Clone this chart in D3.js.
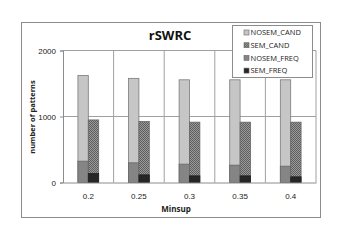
<!DOCTYPE html>
<html>
<head>
<meta charset="utf-8">
<script src="https://cdn.jsdelivr.net/npm/d3@7.9.0/dist/d3.min.js"></script>
<style>
  body { margin: 0; background: #fff; }
  svg { font-family: 'Open Sans', 'DejaVu Sans', sans-serif; }
</style>
</head>
<body>
<div id="chart"></div>
<script>
const categories = ['0.2', '0.25', '0.3', '0.35', '0.4'];
const nosemCand = [1620, 1578, 1556, 1556, 1556];
const semCand = [948, 924, 914, 914, 914];
const nosemFreq = [323, 298, 278, 263, 247];
const semFreq = [136, 116, 101, 101, 86];
const yTicks = [0, 1000, 2000];
const legendNames = ['NOSEM_CAND', 'SEM_CAND', 'NOSEM_FREQ', 'SEM_FREQ'];

const width = 345;
const height = 244;
const margin = { top: 50.5, right: 29, bottom: 61.5, left: 63 };

const svg = d3.select('#chart')
  .append('svg')
  .attr('width', width)
  .attr('height', height);

const defs = svg.append('defs');
const hatch = defs.append('pattern')
  .attr('id', 'hatch')
  .attr('patternUnits', 'userSpaceOnUse')
  .attr('width', 2)
  .attr('height', 2);
hatch.append('rect').attr('width', 2).attr('height', 2).attr('fill', '#9a9a9a');
hatch.append('rect').attr('width', 1).attr('height', 1).attr('fill', '#5e5e5e');
hatch.append('rect').attr('x', 1).attr('y', 1).attr('width', 1).attr('height', 1).attr('fill', '#5e5e5e');

// outer frame
svg.append('rect')
  .attr('x', 21.5).attr('y', 22.5)
  .attr('width', 299).attr('height', 195)
  .attr('fill', '#fff')
  .attr('stroke', '#8c8c8c');

const x = d3.scaleBand()
  .domain(categories)
  .range([margin.left, width - margin.right]);

const y = d3.scaleLinear()
  .domain([0, 2000])
  .range([height - margin.bottom, margin.top]);

// horizontal grid
svg.append('g')
  .selectAll('line')
  .data(yTicks.filter(d => d > 0))
  .join('line')
  .attr('x1', margin.left).attr('x2', width - margin.right)
  .attr('y1', d => y(d)).attr('y2', d => y(d))
  .attr('stroke', '#a0a0a0');

// vertical grid at category boundaries
svg.append('g')
  .selectAll('line')
  .data(categories.slice(1).concat(['end']))
  .join('line')
  .attr('x1', d => d === 'end' ? width - margin.right : x(d))
  .attr('x2', d => d === 'end' ? width - margin.right : x(d))
  .attr('y1', y(2000)).attr('y2', y(0))
  .attr('stroke', '#a0a0a0');

const barW = x.bandwidth() * 0.205;

function bars(values, offset, fill, stroke) {
  svg.append('g')
    .selectAll('rect')
    .data(values)
    .join('rect')
    .attr('x', (d, i) => x(categories[i]) + x.bandwidth() / 2 + offset * barW)
    .attr('y', d => y(d))
    .attr('width', barW)
    .attr('height', d => y(0) - y(d))
    .attr('fill', fill)
    .attr('stroke', stroke)
    .attr('stroke-width', 0.8);
}

bars(nosemCand, -1, '#c6c6c6', '#7a7a7a');
bars(nosemFreq, -1, '#858585', '#666');
bars(semCand, 0, 'url(#hatch)', '#666');
bars(semFreq, 0, '#262626', '#222');

// y axis
const yAxis = svg.append('g')
  .attr('transform', `translate(${margin.left},0)`)
  .call(d3.axisLeft(y).tickValues(yTicks).tickSize(3).tickFormat(d3.format('d')));
yAxis.select('.domain').attr('stroke', '#8c8c8c');
yAxis.selectAll('.tick line').attr('stroke', '#8c8c8c');
yAxis.selectAll('.tick text')
  .attr('font-size', 8)
  .attr('fill', '#222')
  .attr('x', -7);

// x axis
const xAxis = svg.append('g')
  .attr('transform', `translate(0,${y(0)})`)
  .call(d3.axisBottom(x).tickSize(0));
xAxis.select('.domain').attr('stroke', '#8c8c8c');
xAxis.selectAll('.tick text')
  .attr('font-size', 8)
  .attr('fill', '#222')
  .attr('dy', '1.65em');

svg.append('text')
  .attr('x', 176).attr('y', 211.5)
  .attr('text-anchor', 'middle')
  .attr('font-size', 8)
  .attr('font-weight', 'bold')
  .attr('fill', '#222')
  .text('Minsup');

svg.append('text')
  .attr('transform', `translate(35,117) rotate(-90)`)
  .attr('text-anchor', 'middle')
  .attr('font-size', 7.5)
  .attr('font-weight', 'bold')
  .attr('fill', '#222')
  .text('number of patterns');

svg.append('text')
  .attr('x', 170).attr('y', 40)
  .attr('text-anchor', 'middle')
  .attr('font-size', 13)
  .attr('font-weight', 'bold')
  .attr('fill', '#111')
  .text('rSWRC');

// legend
const legendFills = ['#c6c6c6', 'url(#hatch)', '#858585', '#262626'];
const legend = svg.append('g');
legend.append('rect')
  .attr('x', 232.5).attr('y', 25.5)
  .attr('width', 80).attr('height', 52)
  .attr('fill', '#fff')
  .attr('stroke', '#8c8c8c');
const items = legend.selectAll('g.item')
  .data(legendNames)
  .join('g')
  .attr('class', 'item')
  .attr('transform', (d, i) => `translate(244,${32.5 + i * 12.7})`);
items.append('rect')
  .attr('x', 0).attr('y', -2.5)
  .attr('width', 5).attr('height', 5)
  .attr('fill', (d, i) => legendFills[i])
  .attr('stroke', '#666')
  .attr('stroke-width', 0.6);
items.append('text')
  .attr('x', 6.5).attr('y', 2.8)
  .attr('font-size', 7.5)
  .attr('fill', '#222')
  .text(d => d);
</script>
</body>
</html>
